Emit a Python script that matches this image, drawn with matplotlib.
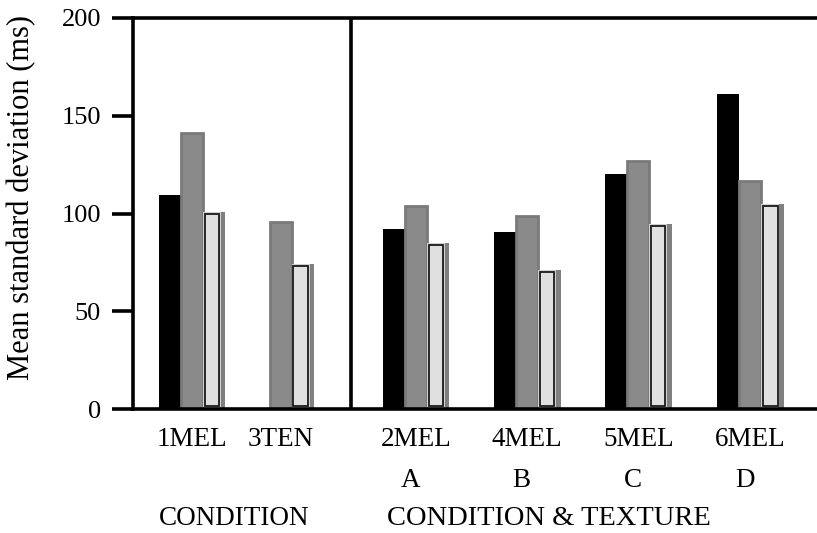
import matplotlib
matplotlib.use('Agg')
import matplotlib.pyplot as plt
import numpy as np

plt.rcParams['font.family'] = ['Liberation Serif', 'DejaVu Serif']

conditions = ['1MEL', '3TEN', '2MEL', '4MEL', '5MEL', '6MEL']
textures = ['', '', 'A', 'B', 'C', 'D']
group_pos = np.array([0.0, 0.8, 2.02, 3.02, 4.02, 5.03])

black_vals = [109.5, np.nan, 92, 90.5, 120, 161]
gray_vals = [141, 95.5, 104, 98.5, 127, 116.5]
light_vals = [101, 74, 85, 71, 94.5, 105]

w = 0.2

fig = plt.figure(figsize=(8.17, 5.33), dpi=100)
ax = fig.add_axes([133 / 817, 124 / 533, 684 / 817, 391 / 533])

ax.bar(group_pos - w, black_vals, width=w, color='black', linewidth=0)
ax.bar(group_pos, gray_vals, width=w, color='#8a8a8a', edgecolor='#7a7a7a', linewidth=2)
# light bars: gray shadow behind an outlined light face
ax.bar(group_pos + w, light_vals, width=w, color='#808080', linewidth=0)
ax.bar(group_pos + w - 0.02, light_vals, width=w - 0.04, color='#d0d0d0', linewidth=0)
ax.bar(group_pos + w - 0.02, np.array(light_vals) - 2.5, bottom=1.5, width=w - 0.07,
       color='#e0e0e0', edgecolor='#1a1a1a', linewidth=1.3)

ax.axvline(1.43, color='black', linewidth=2.6)

ax.set_xlim(-0.53, 5.63)
ax.set_ylim(0, 200)
ax.set_yticks([0, 50, 100, 150, 200])
ax.tick_params(axis='y', direction='out', length=15, width=2.6, labelsize=19, pad=8)
ax.set_xticks(group_pos)
ax.set_xticklabels(conditions, fontsize=19.5)
ax.tick_params(axis='x', length=0, pad=13)

for s in ['left', 'top', 'bottom']:
    ax.spines[s].set_linewidth(2.6)
ax.spines['right'].set_visible(False)

for x, t in zip(group_pos, textures):
    ax.text(x - 0.05, -0.2, t, transform=ax.get_xaxis_transform(), ha='center',
            va='baseline', fontsize=19.5)

fig.text(234 / 817, 1 - 525 / 533, 'CONDITION', ha='center', va='baseline', fontsize=19.5)
fig.text(549 / 817, 1 - 525 / 533, 'CONDITION & TEXTURE', ha='center', va='baseline', fontsize=20.5)
fig.text(22 / 817, 1 - 197 / 533, 'Mean standard deviation (ms)', rotation=90,
         ha='center', va='center', fontsize=22)

fig.savefig('out.png', dpi=100)
